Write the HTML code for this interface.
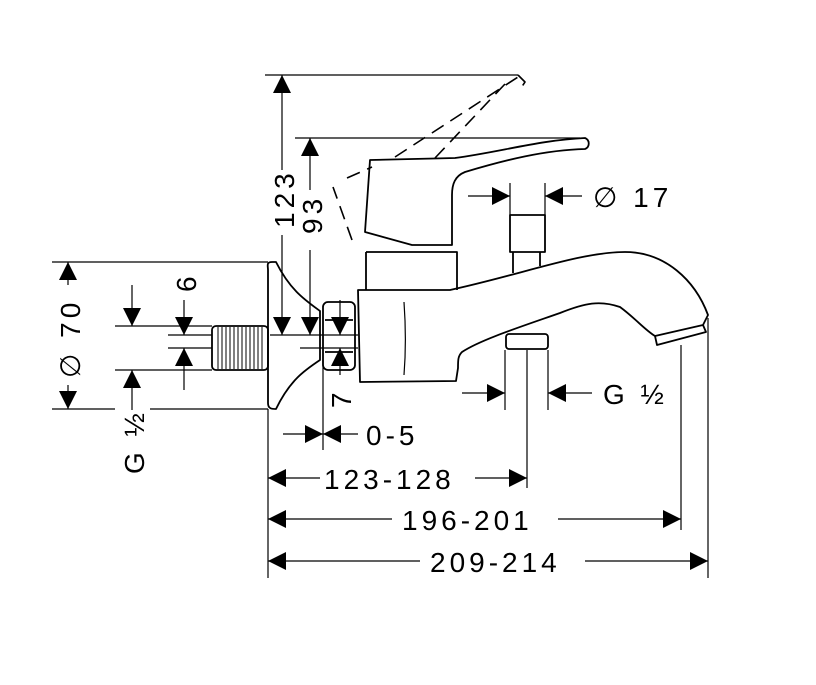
<!DOCTYPE html>
<html><head><style>body{margin:0;background:#fff}svg{display:block}text{font-family:"Liberation Sans",sans-serif;font-size:28px;fill:#000;letter-spacing:4px}</style></head>
<body>
<svg width="816" height="685" viewBox="0 0 816 685" xmlns="http://www.w3.org/2000/svg">
<defs>
<marker id="a" viewBox="0 0 10 10" refX="10" refY="5" markerWidth="18" markerHeight="18" markerUnits="userSpaceOnUse" orient="auto"><path d="M0,0L10,5L0,10z"/></marker>
</defs>
<g fill="none" stroke="#000" stroke-width="1.2">
<line x1="265" y1="75" x2="518" y2="75"/>
<line x1="295" y1="138" x2="580" y2="138"/>
<line x1="52" y1="262" x2="268" y2="262"/>
<line x1="52" y1="409" x2="115" y2="409"/><line x1="150" y1="409" x2="268" y2="409"/>
<line x1="115" y1="326" x2="212" y2="326"/><line x1="115" y1="370" x2="212" y2="370"/>
<line x1="168" y1="335" x2="212" y2="335"/><line x1="168" y1="348" x2="212" y2="348"/>
<line x1="270" y1="335" x2="358" y2="335"/><line x1="300" y1="348" x2="358" y2="348"/>
<line x1="268" y1="409" x2="268" y2="578"/>
<line x1="323" y1="360" x2="323" y2="450"/>
<line x1="527" y1="350" x2="527" y2="488"/>
<line x1="681" y1="345" x2="681" y2="530"/>
<line x1="708" y1="318" x2="708" y2="578"/>
<line x1="505" y1="350" x2="505" y2="410"/><line x1="548" y1="350" x2="548" y2="410"/>
<line x1="510" y1="183" x2="510" y2="215"/><line x1="545" y1="183" x2="545" y2="215"/>
<line x1="282" y1="170" x2="282" y2="75" marker-end="url(#a)"/>
<line x1="282" y1="235" x2="282" y2="335" marker-end="url(#a)"/>
<line x1="310" y1="190" x2="310" y2="138" marker-end="url(#a)"/>
<line x1="310" y1="250" x2="310" y2="335" marker-end="url(#a)"/>
<line x1="68" y1="285" x2="68" y2="262" marker-end="url(#a)"/>
<line x1="68" y1="385" x2="68" y2="409" marker-end="url(#a)"/>
<line x1="132" y1="285" x2="132" y2="326" marker-end="url(#a)"/>
<line x1="132" y1="410" x2="132" y2="370" marker-end="url(#a)"/>
<line x1="184" y1="300" x2="184" y2="335" marker-end="url(#a)"/>
<line x1="184" y1="390" x2="184" y2="348" marker-end="url(#a)"/>
<line x1="340" y1="300" x2="340" y2="335" marker-end="url(#a)"/>
<line x1="340" y1="375" x2="340" y2="348" marker-end="url(#a)"/>
<line x1="283" y1="434" x2="323" y2="434" marker-end="url(#a)"/>
<line x1="358" y1="434" x2="323" y2="434" marker-end="url(#a)"/>
<line x1="320" y1="478" x2="268" y2="478" marker-end="url(#a)"/>
<line x1="475" y1="478" x2="527" y2="478" marker-end="url(#a)"/>
<line x1="392" y1="519" x2="268" y2="519" marker-end="url(#a)"/>
<line x1="558" y1="519" x2="681" y2="519" marker-end="url(#a)"/>
<line x1="420" y1="561" x2="268" y2="561" marker-end="url(#a)"/>
<line x1="585" y1="561" x2="708" y2="561" marker-end="url(#a)"/>
<line x1="462" y1="393" x2="505" y2="393" marker-end="url(#a)"/>
<line x1="592" y1="393" x2="548" y2="393" marker-end="url(#a)"/>
<line x1="468" y1="196" x2="510" y2="196" marker-end="url(#a)"/>
<line x1="582" y1="196" x2="545" y2="196" marker-end="url(#a)"/>
</g>
<g fill="none" stroke="#000" stroke-width="1.8" stroke-linejoin="round">
<g stroke-dasharray="14,8" stroke-width="1.6">
<path d="M352,240 L333,187"/><path d="M347,178 L372,167"/>
<path d="M395,157 L518,77"/><path d="M435,158 L505,84"/>
<path d="M518,75 L525,82 L521,88"/>
</g>
<path d="M370,160 L455,158 C500,152 540,140 585,138 C590,140 590,147 585,149 C545,150 505,160 465,172 C455,176 452,184 452,195 L452,245 L412,245 L365,232 Z"/>
<path d="M366,252 L457,252 L457,290 M366,252 L366,290"/>
<rect x="510" y="215" width="35" height="37"/>
<path d="M513,252 L513,273 M540,252 L540,266"/>
<path d="M358,290 L450,290 C520,275 580,252 625,252 C665,252 695,280 708,315 L703,325 L655,336 C645,330 635,318 620,307 C600,300 585,303 560,313 C520,327 480,340 462,352 C458,356 458,360 458,368 L456,381 L360,382 Z"/>
<path d="M404,302 C406,330 406,350 404,375" stroke-width="1.2"/>
<path d="M655,336 L657,345 L706,332 L703,325"/>
<rect x="506" y="334" width="42" height="15" rx="3"/>
<rect x="323" y="302" width="32" height="68" rx="5"/>
<path d="M325,320 L353,320 M325,352 L353,352"/>
<path d="M272,262 C266,262 268,266 268,270 L268,403 C268,409 272,409 276,409 C290,380 305,370 320,360 L320,311 C305,300 290,290 276,262 Z"/>
<rect x="212" y="326" width="56" height="44" rx="4"/>
</g>
<g stroke="#000" stroke-width="1">
<path d="M218,327v42M222,327v42M226,327v42M230,327v42M234,327v42M238,327v42M242,327v42M246,327v42M250,327v42M254,327v42M258,327v42M262,327v42"/>
</g>
<text transform="translate(294,228) rotate(-90)">123</text>
<text transform="translate(322,234) rotate(-90)">93</text>
<text transform="translate(80,378) rotate(-90)">∅ 70</text>
<text transform="translate(196,292) rotate(-90)">6</text>
<text transform="translate(144,474) rotate(-90)">G ½</text>
<text transform="translate(351,408) rotate(-90)">7</text>
<text x="366" y="445">0-5</text>
<text x="324" y="489">123-128</text>
<text x="402" y="530">196-201</text>
<text x="430" y="572">209-214</text>
<text x="603" y="404">G ½</text>
<text x="593" y="207">∅  17</text>
</svg>
</body></html>
